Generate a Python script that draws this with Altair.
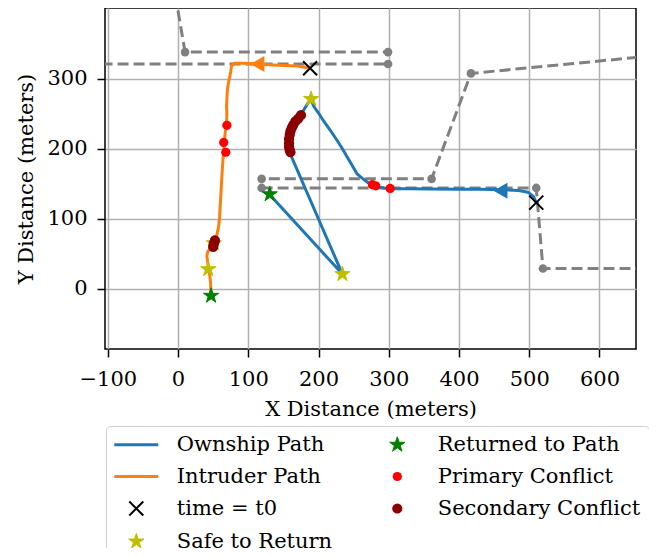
import altair as alt
import pandas as pd

# ---------------- data ----------------
own_x = [510, 506, 498, 485, 464, 430, 400, 360, 330, 303, 293, 280, 270, 262, 255, 248, 241, 234, 227, 217, 207, 200, 193, 189,
         183, 178, 173, 167, 162, 159, 158, 158, 159, 160, 234, 130]
own_y = [123, 132, 138, 140.5, 141.5, 142, 142.3, 142.5, 142.7, 143, 144, 147, 152, 158, 164, 176, 188, 200, 211, 226, 240, 251, 261, 271,
         262, 254, 246, 239, 230, 222, 213, 205, 197, 192, 21, 135]

int_x = [188, 182, 170, 150, 130, 113, 95, 80, 76, 75, 73, 71, 70, 69.5, 69, 69.5, 69, 67, 66, 65, 64, 63, 62, 61, 60, 59, 57.6, 55,
         52, 49, 45, 42, 41, 42, 43, 44, 45, 46, 46.5, 47]
int_y = [315, 316, 318, 319, 320, 321, 322, 322, 318, 310, 300, 290, 280, 270, 260, 250, 234, 222, 210, 198, 185, 170, 154, 135, 118, 100, 88, 76,
         68, 62, 57, 52, 46, 40, 33, 28, 20, 12, 4, -10]

# planned routes (gray dashed with waypoints)
route_id = ["A", "A", "A", "B", "B", "C", "C", "C", "C", "D", "D", "D", "D"]
route_x = [-4, 10, 299, -200, 299, 700, 417, 361, 119, 119, 510, 519.5, 700]
route_y = [420, 338, 338, 321, 321, 335, 307.6, 157, 157, 144, 144, 29, 29]

# direction arrows
arrow_x = [459, 113]
arrow_y = [140, 321]
arrow_color = ["#1f77b4", "#ff7f0e"]

# event markers
safe_x = [189.5, 234, 43, 51]
safe_y = [271, 21, 28, 65]
ret_x = [130.5, 47]
ret_y = [135, -10]
prim_x = [276.7, 281.4, 302, 69.5, 65, 68]
prim_y = [148.6, 147, 143.3, 233.5, 209, 195]
sec_x = [175, 171, 167, 164, 162, 160, 159, 158, 158, 158, 159, 160, 50, 50.5, 51.5, 52.5]
sec_y = [248, 243, 239, 234, 230, 225, 220, 214, 208, 203, 198, 195, 60, 63, 66, 69]
t0_x = [510, 188]
t0_y = [123, 315]

x_ticks = [-100, 0, 100, 200, 300, 400, 500, 600]
y_ticks = [0, 100, 200, 300]

legend_order = ["Ownship Path", "Intruder Path", "time = t0", "Safe to Return",
                "Returned to Path", "Primary Conflict", "Secondary Conflict"]

# ---------------- styling ----------------
LINE = "M-2.75,0L2.75,0"
STAR = ("M0,-1L0.2245,-0.309L0.9511,-0.309L0.3633,0.118L0.5878,0.809L0,0.382"
        "L-0.5878,0.809L-0.3633,0.118L-0.9511,-0.309L-0.2245,-0.309Z")
XSHAPE = "M-1,-1L1,1M-1,1L1,-1"
shape_range = [LINE, LINE, XSHAPE, STAR, STAR, "circle", "circle"]
fill_range = ["#1f77b4", "#ff7f0e", "transparent", "#bfbf00", "#008000", "#ff0000", "#8b0000"]
stroke_range = ["#1f77b4", "#ff7f0e", "#000000", "#bfbf00", "#008000", "#ff0000", "#8b0000"]
sw_range = [3, 3, 2, 1, 1, 0, 0]
size_range = [256, 256, 196, 256, 256, 85, 105]

FONT = "DejaVu Serif"
FS = 21
XDOM = [-104, 652]
YDOM = [-86, 401]

xsc = alt.Scale(domain=XDOM, nice=False, zero=False)
ysc = alt.Scale(domain=YDOM, nice=False, zero=False)

xaxis = alt.Axis(title="X Distance (meters)", values=x_ticks, format="d",
                 labelPadding=11, titlePadding=9)
yaxis = alt.Axis(title="Y Distance (meters)", values=y_ticks, format="d",
                 labelPadding=10, titlePadding=10)

routes = pd.DataFrame({"route": route_id, "x": route_x, "y": route_y,
                       "i": list(range(len(route_x)))})
own = pd.DataFrame({"x": own_x, "y": own_y, "i": list(range(len(own_x)))})
intr = pd.DataFrame({"x": int_x, "y": int_y, "i": list(range(len(int_x)))})
arrows = pd.DataFrame({"x": arrow_x, "y": arrow_y, "c": arrow_color})

rows = []
for lab, xs, ys in [("Safe to Return", safe_x, safe_y), ("Returned to Path", ret_x, ret_y),
                    ("Primary Conflict", prim_x, prim_y), ("Secondary Conflict", sec_x, sec_y),
                    ("time = t0", t0_x, t0_y)]:
    for a, b in zip(xs, ys):
        rows.append({"x": a, "y": b, "event": lab})
events = pd.DataFrame(rows)
events["k"] = range(len(events))

route_lines = alt.Chart(routes).mark_line(
    color="#808080", strokeWidth=3, strokeDash=[11, 5], clip=True
).encode(
    x=alt.X("x:Q", scale=xsc, axis=xaxis),
    y=alt.Y("y:Q", scale=ysc, axis=yaxis),
    detail="route:N",
    order="i:Q",
)
route_pts = alt.Chart(routes).mark_circle(
    color="#808080", size=75, opacity=1, clip=True
).encode(x=alt.X("x:Q", scale=xsc), y=alt.Y("y:Q", scale=ysc))

own_line = alt.Chart(own).mark_line(color="#1f77b4", strokeWidth=3, clip=True).encode(
    x=alt.X("x:Q", scale=xsc), y=alt.Y("y:Q", scale=ysc), order="i:Q")
int_line = alt.Chart(intr).mark_line(color="#ff7f0e", strokeWidth=3, clip=True).encode(
    x=alt.X("x:Q", scale=xsc), y=alt.Y("y:Q", scale=ysc), order="i:Q")

arrow_pts = alt.Chart(arrows).mark_point(
    shape="triangle-left", filled=True, size=260, opacity=1, clip=True
).encode(
    x=alt.X("x:Q", scale=xsc), y=alt.Y("y:Q", scale=ysc),
    color=alt.Color("c:N", scale=None, legend=None),
)

legend = alt.Legend(
    title=None, orient="none", legendX=1, legendY=418, direction="vertical", columns=2,
    labelFont=FONT, labelFontSize=FS, labelColor="black", labelLimit=0, labelOffset=30,
    symbolFillColor="transparent", symbolOffset=11.8,
    strokeColor="#d0d0d0", fillColor="white", padding=8, cornerRadius=4,
    rowPadding=10, columnPadding=42,
)

ev = alt.Chart(events).mark_point(opacity=1, clip=True).encode(
    x=alt.X("x:Q", scale=xsc), y=alt.Y("y:Q", scale=ysc),
    shape=alt.Shape("event:N", scale=alt.Scale(domain=legend_order, range=shape_range), legend=legend),
    fill=alt.Fill("event:N", scale=alt.Scale(domain=legend_order, range=fill_range), legend=legend),
    stroke=alt.Stroke("event:N", scale=alt.Scale(domain=legend_order, range=stroke_range), legend=legend),
    size=alt.Size("event:N", scale=alt.Scale(type="ordinal", domain=legend_order, range=size_range), legend=legend),
    strokeWidth=alt.StrokeWidth("event:N", scale=alt.Scale(type="ordinal", domain=legend_order, range=sw_range), legend=legend),
    order="k:Q",
)

chart = alt.layer(route_lines, route_pts, own_line, int_line, arrow_pts, ev).properties(
    width=531, height=341,
    autosize=alt.AutoSizeParams(type="none"),
    padding={"left": 97, "top": 0, "right": 13, "bottom": 199},
).configure_view(
    stroke="black", strokeWidth=1.5
).configure_axis(
    labelFont=FONT, labelFontSize=FS, labelColor="black",
    titleFont=FONT, titleFontSize=FS, titleFontWeight="normal", titleColor="black",
    tickColor="black", tickSize=8, tickWidth=1.5,
    domain=False, grid=True, gridColor="#b0b0b0", gridWidth=1.5,
)

chart.save("out.html", embed_options={"renderer": "svg", "actions": False})
